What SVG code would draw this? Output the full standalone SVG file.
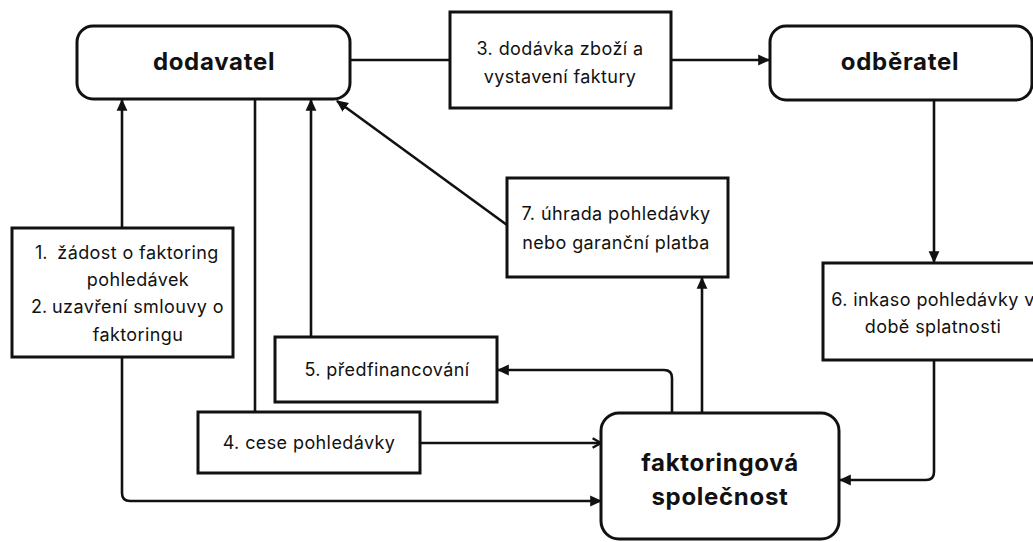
<svg xmlns="http://www.w3.org/2000/svg" width="1033" height="542" viewBox="0 0 1033 542">
<defs>
<marker id="ah" markerUnits="userSpaceOnUse" markerWidth="12" markerHeight="12" viewBox="0 0 10 10" refX="9" refY="5" orient="auto">
<path d="M0,0.5 L10,5 L0,9.5 z" fill="#111"/>
</marker>
<marker id="oh" markerUnits="userSpaceOnUse" markerWidth="12" markerHeight="12" viewBox="0 0 10 10" refX="9" refY="5" orient="auto">
<path d="M2,1 L9,5 L2,9" fill="none" stroke="#111" stroke-width="2"/>
</marker>
<style>
.box{fill:#fff;stroke:#111;stroke-width:3}
.c{fill:none;stroke:#111;stroke-width:2.6}
.t{font-family:Inter,"Liberation Sans",sans-serif;font-size:18px;letter-spacing:0.4px;fill:#111;text-anchor:middle}
.ts{font-family:Inter,"Liberation Sans",sans-serif;font-size:18px;fill:#111}
.b{font-family:Inter,"Liberation Sans",sans-serif;font-size:24px;letter-spacing:0.7px;font-weight:700;fill:#111;text-anchor:middle}
</style>
</defs>
<rect width="1033" height="542" fill="#fff"/>
<g id="connectors">
<path class="c" d="M350,60 H450"/>
<path class="c" d="M671,60 H769" marker-end="url(#ah)"/>
<path class="c" d="M122,228 V100" marker-end="url(#ah)"/>
<path class="c" d="M255,99 V412"/>
<path class="c" d="M311,337 V100" marker-end="url(#ah)"/>
<path class="c" d="M507,225 L337,101" marker-end="url(#ah)"/>
<path class="c" d="M934,100 V262" marker-end="url(#ah)"/>
<path class="c" d="M934,360 V472 Q934,480 926,480 H840" marker-end="url(#ah)"/>
<path class="c" d="M122,357 V493 Q122,501 130,501 H601" marker-end="url(#ah)"/>
<path class="c" d="M672,413 V378 Q672,370 664,370 H498" marker-end="url(#ah)"/>
<path class="c" d="M702,413 V278" marker-end="url(#ah)"/>
<path class="c" d="M420,443 H601" marker-end="url(#oh)"/>
</g>
<g id="dodavatel">
<rect class="box" x="77" y="26" width="273" height="73" rx="16"/>
<text class="b" x="214" y="70">dodavatel</text>
</g>
<g id="odberatel">
<rect class="box" x="770" y="26" width="262" height="74" rx="16"/>
<text class="b" x="900" y="70">odběratel</text>
</g>
<g id="step3">
<rect class="box" x="450" y="12" width="221" height="96"/>
<text class="t" x="560" y="55">3. dodávka zboží a</text>
<text class="t" x="560" y="83">vystavení faktury</text>
</g>
<g id="step12">
<rect class="box" x="12" y="228" width="221" height="129"/>
<text class="ts" x="35" y="259">1.</text>
<text class="t" x="138" y="259">žádost o faktoring</text>
<text class="t" x="138" y="286">pohledávek</text>
<text class="ts" x="31" y="313">2.</text>
<text class="t" x="138" y="313">uzavření smlouvy o</text>
<text class="t" x="138" y="341">faktoringu</text>
</g>
<g id="step7">
<rect class="box" x="507" y="178" width="221" height="99"/>
<text class="t" x="616" y="220">7. úhrada pohledávky</text>
<text class="t" x="616" y="249">nebo garanční platba</text>
</g>
<g id="step6">
<rect class="box" x="823" y="263" width="222" height="97"/>
<text class="t" x="933" y="306">6. inkaso pohledávky v</text>
<text class="t" x="933" y="333">době splatnosti</text>
</g>
<g id="step5">
<rect class="box" x="275" y="337" width="222" height="65"/>
<text class="t" x="387" y="376">5. předfinancování</text>
</g>
<g id="step4">
<rect class="box" x="198" y="412" width="222" height="61"/>
<text class="t" x="309" y="449">4. cese pohledávky</text>
</g>
<g id="faktoringova">
<rect class="box" x="601" y="413" width="238" height="126" rx="18"/>
<text class="b" x="720" y="471">faktoringová</text>
<text class="b" x="720" y="505">společnost</text>
</g>
</svg>
